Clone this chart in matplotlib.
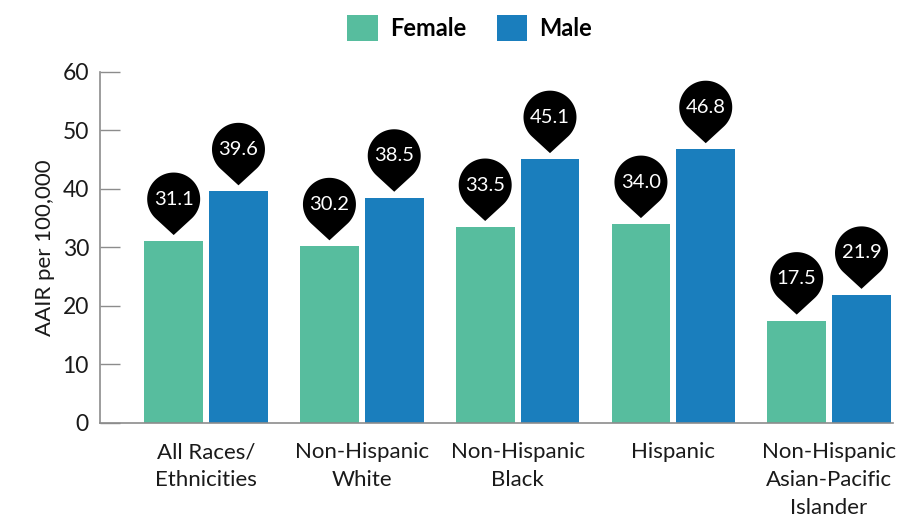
import numpy as np
import matplotlib
matplotlib.use("Agg")
import matplotlib.pyplot as plt
from matplotlib.path import Path
from matplotlib.patches import PathPatch, Patch
from matplotlib.transforms import Affine2D, ScaledTranslation

categories = ["All Races/\nEthnicities", "Non-Hispanic\nWhite", "Non-Hispanic\nBlack",
              "Hispanic", "Non-Hispanic\nAsian-Pacific\nIslander"]
female = [31.1, 30.2, 33.5, 34.0, 17.5]
male = [39.6, 38.5, 45.1, 46.8, 21.9]
series_names = ["Female", "Male"]
yticks = [0, 10, 20, 30, 40, 50, 60]

GREEN = "#57BD9E"
BLUE = "#1A7EBD"
GRAY = "#8C8C8C"

plt.rcParams["font.family"] = ["Lato", "DejaVu Sans"]

fig = plt.figure(figsize=(9.05, 5.25), dpi=100)
ax = fig.add_axes([0.1105, 0.1943, 0.8762, 0.6686])

x = np.arange(len(categories))
w = 0.378
off = 0.208
ax.bar(x - off, female, width=w, color=GREEN, zorder=2)
ax.bar(x + off, male, width=w, color=BLUE, zorder=2)

ax.set_xlim(-0.681, 4.41)
ax.set_ylim(0, 60)
ax.set_yticks(yticks)
ax.set_yticklabels([str(t) for t in yticks], fontsize=16.5, color="#1a1a1a")
ax.tick_params(axis="y", direction="in", length=14.4, width=1, color=GRAY, pad=8)
ax.set_xticks(x)
ax.set_xticklabels(categories, fontsize=16, color="#1a1a1a", linespacing=1.5)
ax.tick_params(axis="x", length=0, pad=14)

for s in ["top", "right"]:
    ax.spines[s].set_visible(False)
for s in ["left", "bottom"]:
    ax.spines[s].set_color(GRAY)
    ax.spines[s].set_linewidth(1.2)

ax.set_ylabel("AAIR per 100,000", fontsize=16, color="#1a1a1a", labelpad=5)


def pin_path(r=26.5, d=36.0, lift=6.0):
    # teardrop: circle of radius r whose tip sits d below the centre
    beta = np.arccos(r / d)
    a0 = -np.pi / 2 + beta
    a1 = 3 * np.pi / 2 - beta
    ang = np.linspace(a0, a1, 80)
    cy = d + lift
    pts = [(0.0, lift)] + [(r * np.cos(a), cy + r * np.sin(a)) for a in ang] + [(0.0, lift)]
    codes = [Path.MOVETO] + [Path.LINETO] * (len(pts) - 2) + [Path.CLOSEPOLY]
    return Path(pts, codes), cy


pin, center_px = pin_path()
px = Affine2D().scale(1 / 100.0) + fig.dpi_scale_trans

for xs, vals in [(x - off, female), (x + off, male)]:
    for xi, v in zip(xs, vals):
        tr = px + ScaledTranslation(xi, v, ax.transData)
        ax.add_patch(PathPatch(pin, transform=tr, facecolor="black",
                               edgecolor="none", zorder=3, clip_on=False))
        ax.annotate(f"{v:.1f}", xy=(xi, v), xytext=(0, center_px * 0.72),
                    textcoords="offset points", ha="center", va="center",
                    fontsize=14.5, color="white", zorder=4)

handles = [Patch(facecolor=GREEN, edgecolor="none"), Patch(facecolor=BLUE, edgecolor="none")]
leg = fig.legend(handles, series_names, loc="upper center", bbox_to_anchor=(0.519, 1.012),
                 ncol=2, frameon=False, handlelength=1.3, handleheight=1.3,
                 handletextpad=0.5, columnspacing=1.3, prop={"size": 17, "weight": "bold"})

fig.savefig("out.png", dpi=100)
